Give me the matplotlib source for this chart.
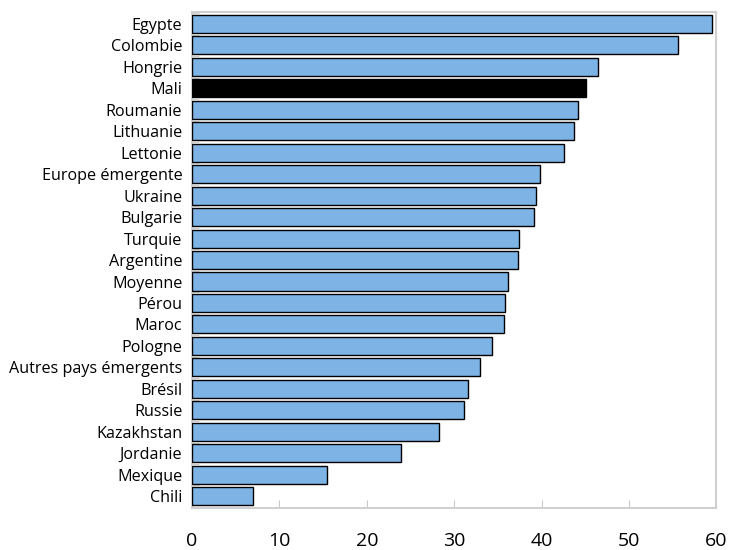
import matplotlib
matplotlib.use("Agg")
import matplotlib.pyplot as plt

categories = ["Egypte", "Colombie", "Hongrie", "Mali", "Roumanie", "Lithuanie", "Lettonie",
              "Europe émergente", "Ukraine", "Bulgarie", "Turquie", "Argentine", "Moyenne",
              "Pérou", "Maroc", "Pologne", "Autres pays émergents", "Brésil", "Russie",
              "Kazakhstan", "Jordanie", "Mexique", "Chili"]
values = [59.5, 55.6, 46.4, 45.1, 44.1, 43.7, 42.6, 39.8, 39.3, 39.1, 37.4, 37.3, 36.2,
          35.8, 35.7, 34.3, 33.0, 31.6, 31.1, 28.2, 23.9, 15.5, 7.0]
highlight = "Mali"
xticks = [0, 10, 20, 30, 40, 50, 60]

plt.rcParams['font.family'] = ['Open Sans', 'DejaVu Sans']

fig = plt.figure(figsize=(7.3, 5.5), dpi=100)
ax = fig.add_axes([0.263, 0.0764, 0.7185, 0.9016])

n = len(categories)
ypos = list(range(n - 1, -1, -1))
colors = ["black" if c == highlight else "#7DB3E5" for c in categories]
ax.barh(ypos, values, height=0.84, color=colors, edgecolor="black", linewidth=1.0, zorder=3)

ax.set_xlim(0, 60)
ax.set_ylim(-0.55, n - 0.45)
ax.set_yticks(ypos)
ax.set_yticklabels(categories, fontsize=11.6)
ax.set_xticks(xticks)
ax.set_xticklabels([str(t) for t in xticks], fontsize=14)

for s in ax.spines.values():
    s.set_color("#D0D0D0")
    s.set_linewidth(1.5)

ax.tick_params(axis="x", direction="in", length=6, color="#C8C8C8", pad=17)
ax.tick_params(axis="y", length=0, pad=7)
# minor ticks between categories on left axis
ax.set_yticks([y + 0.5 for y in range(-1, n)], minor=True)
ax.tick_params(axis="y", which="minor", direction="in", length=5, color="#C8C8C8")

fig.savefig("out.png", dpi=100)
